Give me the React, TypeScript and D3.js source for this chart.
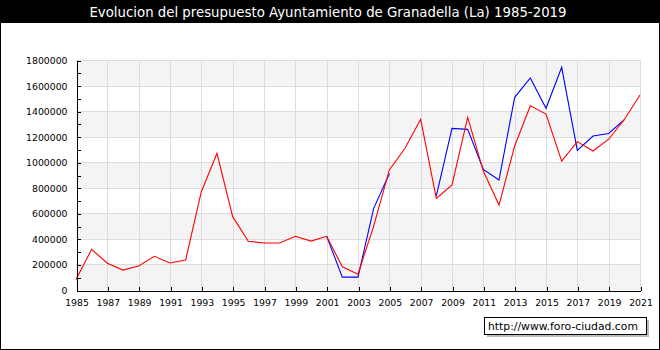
import React, { useEffect, useRef } from 'react'
import * as d3 from 'd3'

const title = 'Evolucion del presupuesto Ayuntamiento de Granadella (La) 1985-2019'
const credit = 'http://www.foro-ciudad.com'

const years = [
  1985, 1986, 1987, 1988, 1989, 1990, 1991, 1992, 1993, 1994, 1995, 1996, 1997,
  1998, 1999, 2000, 2001, 2002, 2003, 2004, 2005, 2006, 2007, 2008, 2009, 2010,
  2011, 2012, 2013, 2014, 2015, 2016, 2017, 2018, 2019, 2020, 2021,
]

// red series
const redValues = [
  83000, 318000, 210000, 156000, 188000, 264000, 211000, 235000, 769000, 1070000,
  574000, 382000, 368000, 368000, 420000, 383000, 420000, 181000, 124000, 500000,
  940000, 1109000, 1336000, 717000, 822000, 1351000, 931000, 665000, 1127000,
  1442000, 1377000, 1008000, 1161000, 1088000, 1180000, 1334000, 1526000,
]

// blue series (gaps where not drawn)
const blueValues = [
  null, null, null, null, null, null, null, null, null, null,
  null, null, null, null, null, null, 420000, 101000, 101000, 639000,
  910000, null, null, 736000, 1265000, 1257000, 944000, 861000, 1508000,
  1659000, 1422000, 1743000, 1092000, 1205000, 1225000, 1334000, null,
]

const yTicks = [0, 200000, 400000, 600000, 800000, 1000000, 1200000, 1400000, 1600000, 1800000]
const yMinorTicks = [100000, 300000, 500000, 700000, 900000, 1100000, 1300000, 1500000, 1700000]
const xTicks = [1985, 1987, 1989, 1991, 1993, 1995, 1997, 1999, 2001, 2003, 2005, 2007, 2009, 2011, 2013, 2015, 2017, 2019, 2021]

export default function App() {
  const svgRef = useRef<SVGSVGElement>(null)

  useEffect(() => {
    document.body.style.margin = '0'
    const w = 660
    const h = 350
    const svg = d3.select(svgRef.current)
    svg.selectAll('*').remove()
    svg.attr('width', w).attr('height', h)

    const font = 'DejaVu Sans, Verdana, sans-serif'

    const x = d3.scaleLinear().domain([1985, 2021]).range([76, 640])
    const y = d3.scaleLinear().domain([0, 1800000]).range([290, 60])

    // background + frame
    svg.append('rect').attr('width', w).attr('height', h).attr('fill', '#fff')
    svg.append('rect')
      .attr('x', 0.5).attr('y', 0.5).attr('width', w - 1).attr('height', h - 1)
      .attr('fill', 'none').attr('stroke', '#000')

    // title bar
    svg.append('rect').attr('width', w).attr('height', 23).attr('fill', '#000')
    svg.append('text')
      .attr('x', 328).attr('y', 17)
      .attr('text-anchor', 'middle')
      .attr('fill', '#fff')
      .style('font-family', font)
      .style('font-size', '13.3px')
      .text(title)

    // bands
    const bands = d3.pairs(yTicks)
    svg.append('g').selectAll('rect')
      .data(bands)
      .join('rect')
      .attr('x', x(1985))
      .attr('y', d => y(d[1]))
      .attr('width', x(2021) - x(1985))
      .attr('height', d => y(d[0]) - y(d[1]))
      .attr('fill', (d, i) => (i % 2 === 0 ? '#f4f4f4' : '#fff'))

    // grid
    const grid = svg.append('g').attr('stroke', '#dcdcdc').attr('shape-rendering', 'crispEdges')
    grid.selectAll('.hg')
      .data(yTicks.slice(1))
      .join('line')
      .attr('x1', x(1985)).attr('x2', x(2021))
      .attr('y1', d => Math.round(y(d)) + 0.5)
      .attr('y2', d => Math.round(y(d)) + 0.5)
    grid.selectAll('.vg')
      .data(xTicks.slice(1))
      .join('line')
      .attr('x1', d => Math.round(x(d)) + 0.5)
      .attr('x2', d => Math.round(x(d)) + 0.5)
      .attr('y1', y(1800000)).attr('y2', y(0))

    // lines
    const line = d3.line<number | null>()
      .defined(d => d != null)
      .x((d, i) => x(years[i]))
      .y(d => y(d as number))

    svg.append('path')
      .attr('d', line(blueValues))
      .attr('fill', 'none')
      .attr('stroke', '#0000ff')
      .attr('stroke-width', 1.1)
    svg.append('path')
      .attr('d', line(redValues))
      .attr('fill', 'none')
      .attr('stroke', '#ff0000')
      .attr('stroke-width', 1.1)

    // axes
    const yAxis = d3.axisLeft(y)
      .tickValues([...yTicks, ...yMinorTicks])
      .tickSizeInner(-4)
      .tickSizeOuter(0)
      .tickPadding(9)
      .tickFormat(d => (yTicks.includes(d as number) ? String(d) : ''))
    const gy = svg.append('g')
      .attr('transform', `translate(${Math.round(x(1985)) + 0.5},0.5)`)
      .call(yAxis)
    gy.selectAll('text').style('font-family', font).style('font-size', '9.3px').attr('fill', '#000')

    const xAxis = d3.axisBottom(x)
      .tickValues(xTicks)
      .tickSizeInner(-4)
      .tickSizeOuter(0)
      .tickPadding(9)
      .tickFormat(d => String(d))
    const gx = svg.append('g')
      .attr('transform', `translate(0.5,${Math.round(y(0)) + 0.5})`)
      .call(xAxis)
    gx.selectAll('text').style('font-family', font).style('font-size', '9.3px').attr('fill', '#000')
    svg.selectAll('.domain, .tick line').attr('stroke', '#000').attr('shape-rendering', 'crispEdges')

    // credit box
    svg.append('rect')
      .attr('x', 487).attr('y', 320).attr('width', 162).attr('height', 17)
      .attr('fill', '#bbb')
    svg.append('rect')
      .attr('x', 484.5).attr('y', 317.5).attr('width', 162).attr('height', 17)
      .attr('fill', '#fff').attr('stroke', '#000')
    svg.append('text')
      .attr('x', 488).attr('y', 330)
      .style('font-family', font)
      .style('font-size', '10.8px')
      .text(credit)
  }, [])

  return <svg ref={svgRef} style={{ display: 'block' }}></svg>
}
